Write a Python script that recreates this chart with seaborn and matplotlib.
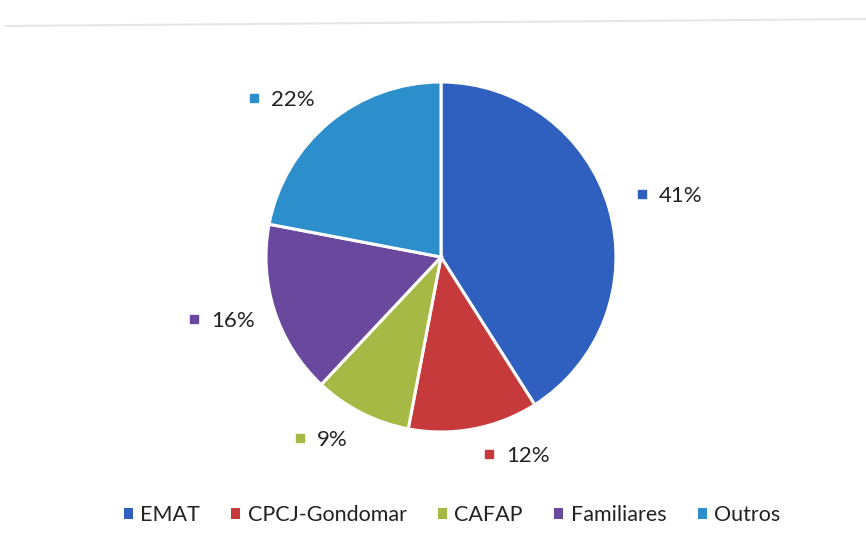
import matplotlib
matplotlib.use("Agg")
import matplotlib.pyplot as plt
import seaborn as sns
from matplotlib.lines import Line2D
from matplotlib.patches import Patch

categories = ["EMAT", "CPCJ-Gondomar", "CAFAP", "Familiares", "Outros"]
shares = [41, 12, 9, 16, 22]
pct_labels = ["41%", "12%", "9%", "16%", "22%"]
colors = ["#2F5FBF", "#C63A3B", "#A6B944", "#6A489E", "#2C8ECB"]

# where Excel put the data labels (text left edge, data units, radius = 1)
label_pos = [(1.246, 0.35), (0.372, -1.138), (-0.709, -1.046), (-1.315, -0.366), (-0.972, 0.895)]

sns.set_theme(style="white")
plt.rcParams["font.family"] = ["Lato", "DejaVu Sans"]

W, H = 866, 544
cx, cy, R = 441, 257, 175  # pie centre and radius in pixels

fig = plt.figure(figsize=(W / 100, H / 100), dpi=100)
ax = fig.add_axes([0, 0, 1, 1])

ax.pie(shares, colors=colors, startangle=90, counterclock=False, radius=1,
       wedgeprops=dict(edgecolor="white", linewidth=2.2))

# pie() resets the limits, so fix them afterwards
ax.set_xlim(-cx / R, (W - cx) / R)
ax.set_ylim(-(H - cy) / R, cy / R)
ax.set_aspect("equal")
ax.axis("off")

for (x, y), txt, c in zip(label_pos, pct_labels, colors):
    ax.text(x, y, txt, ha="left", va="center", fontsize=16, color="#222222")
    ax.plot([x - 17 / R], [y + 2 / R], marker="s", markersize=5.5, color=c, linestyle="none")

handles = [Patch(facecolor=c, edgecolor="none", label=n) for n, c in zip(categories, colors)]
leg = fig.legend(handles=handles, loc="center", bbox_to_anchor=(452 / W, 1 - 515 / H), ncol=5,
                 frameon=False, fontsize=15.5, handlelength=0.42, handleheight=0.42,
                 handletextpad=0.35, columnspacing=1.45)
for t in leg.get_texts():
    t.set_color("#222222")

# faint top border from the scanned page
fig.add_artist(Line2D([5 / W, 1], [1 - 26 / H, 1 - 19 / H], color="#E6E6E6", linewidth=1.5))

fig.savefig("out.png", dpi=100)
